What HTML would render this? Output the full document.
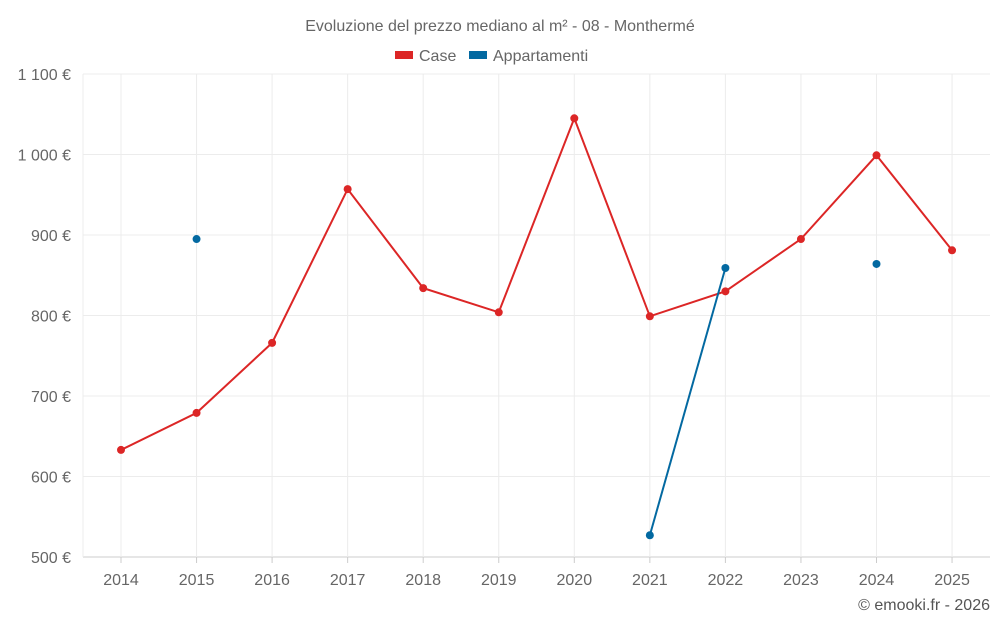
<!DOCTYPE html>
<html><head><meta charset="utf-8">
<style>
html,body{margin:0;padding:0;background:#fff;}
svg{display:block;font-family:"Liberation Sans",sans-serif;}
</style></head>
<body>
<svg id="chart" width="1000" height="625" viewBox="0 0 1000 625" xmlns="http://www.w3.org/2000/svg">
<text x="500" y="31" text-anchor="middle" font-size="16" fill="#666">Evoluzione del prezzo mediano al m² - 08 - Monthermé</text>
<g>
<g>
<rect x="395" y="51" width="18" height="8" fill="#dc2626"/>
<text x="419" y="61" font-size="16" fill="#666">Case</text>
</g>
<g>
<rect x="469" y="51" width="18" height="8" fill="#0369a1"/>
<text x="493" y="61" font-size="16" fill="#666">Appartamenti</text>
</g>
</g>
<g id="grid"></g>
<g id="axes"></g>
<g id="series"></g>
<text x="990" y="610" text-anchor="end" font-size="16" fill="#555">© emooki.fr - 2026</text>
</svg>
<script>
const years = [2014,2015,2016,2017,2018,2019,2020,2021,2022,2023,2024,2025];
const caseValues = [633,679,766,957,834,804,1045,799,830,895,999,881];
const apptValues = [null,895,null,null,null,null,null,527,859,null,864,null];
const yTicks = [500,600,700,800,900,1000,1100];
const yTickLabels = ["500 €","600 €","700 €","800 €","900 €","1 000 €","1 100 €"];

const NS="http://www.w3.org/2000/svg";
const L=83,R=990,T=74,B=557;
const yMin=500,yMax=1100;
const x0=121,xStep=75.55;
function xPos(i){return x0+i*xStep;}
function yPos(v){return B-(v-yMin)/(yMax-yMin)*(B-T);}
function mk(tag,attrs,parent){const e=document.createElementNS(NS,tag);for(const k in attrs)e.setAttribute(k,attrs[k]);parent.appendChild(e);return e;}
const grid=document.getElementById('grid'),axes=document.getElementById('axes'),series=document.getElementById('series');

yTicks.forEach((v,i)=>{
  const y=yPos(v);
  const g=mk('line',{x1:L,x2:R,y1:y,y2:y,stroke:i===0?'#ccc':'#ececec','stroke-width':1},grid);
  
  
  const t=mk('text',{x:L-12,y:y+6,'text-anchor':'end','font-size':16,fill:'#666'},axes);
  t.textContent=yTickLabels[i];
  
  
});
const lv=mk('line',{x1:L,x2:L,y1:T,y2:B,stroke:'#ececec'},grid);


years.forEach((yr,i)=>{
  const x=xPos(i);
  const g=mk('line',{x1:x,x2:x,y1:T,y2:B,stroke:'#ececec'},grid);
  
  
  const tk=mk('line',{x1:x,x2:x,y1:B,y2:B+6,stroke:'#ccc'},axes);
  
  
  const t=mk('text',{x:x,y:585,'text-anchor':'middle','font-size':16,fill:'#666'},axes);
  t.textContent=yr;
  
  
});

function drawSeries(vals,color,name){
  let seg=[];
  const segs=[];
  vals.forEach((v,i)=>{ if(v==null){if(seg.length)segs.push(seg);seg=[];} else seg.push([xPos(i),yPos(v)]); });
  if(seg.length)segs.push(seg);
  segs.forEach(s=>{ if(s.length>1){
    const p=mk('polyline',{points:s.map(q=>q.join(',')).join(' '),fill:'none',stroke:color,'stroke-width':2},series);
    
    
  }});
  vals.forEach((v,i)=>{ if(v==null)return;
    const c=mk('circle',{cx:xPos(i),cy:yPos(v),r:4,fill:color},series);
    
    
  });
}
drawSeries(caseValues,'#dc2626','case');
drawSeries(apptValues,'#0369a1','appartamenti');
</script>
</body></html>
